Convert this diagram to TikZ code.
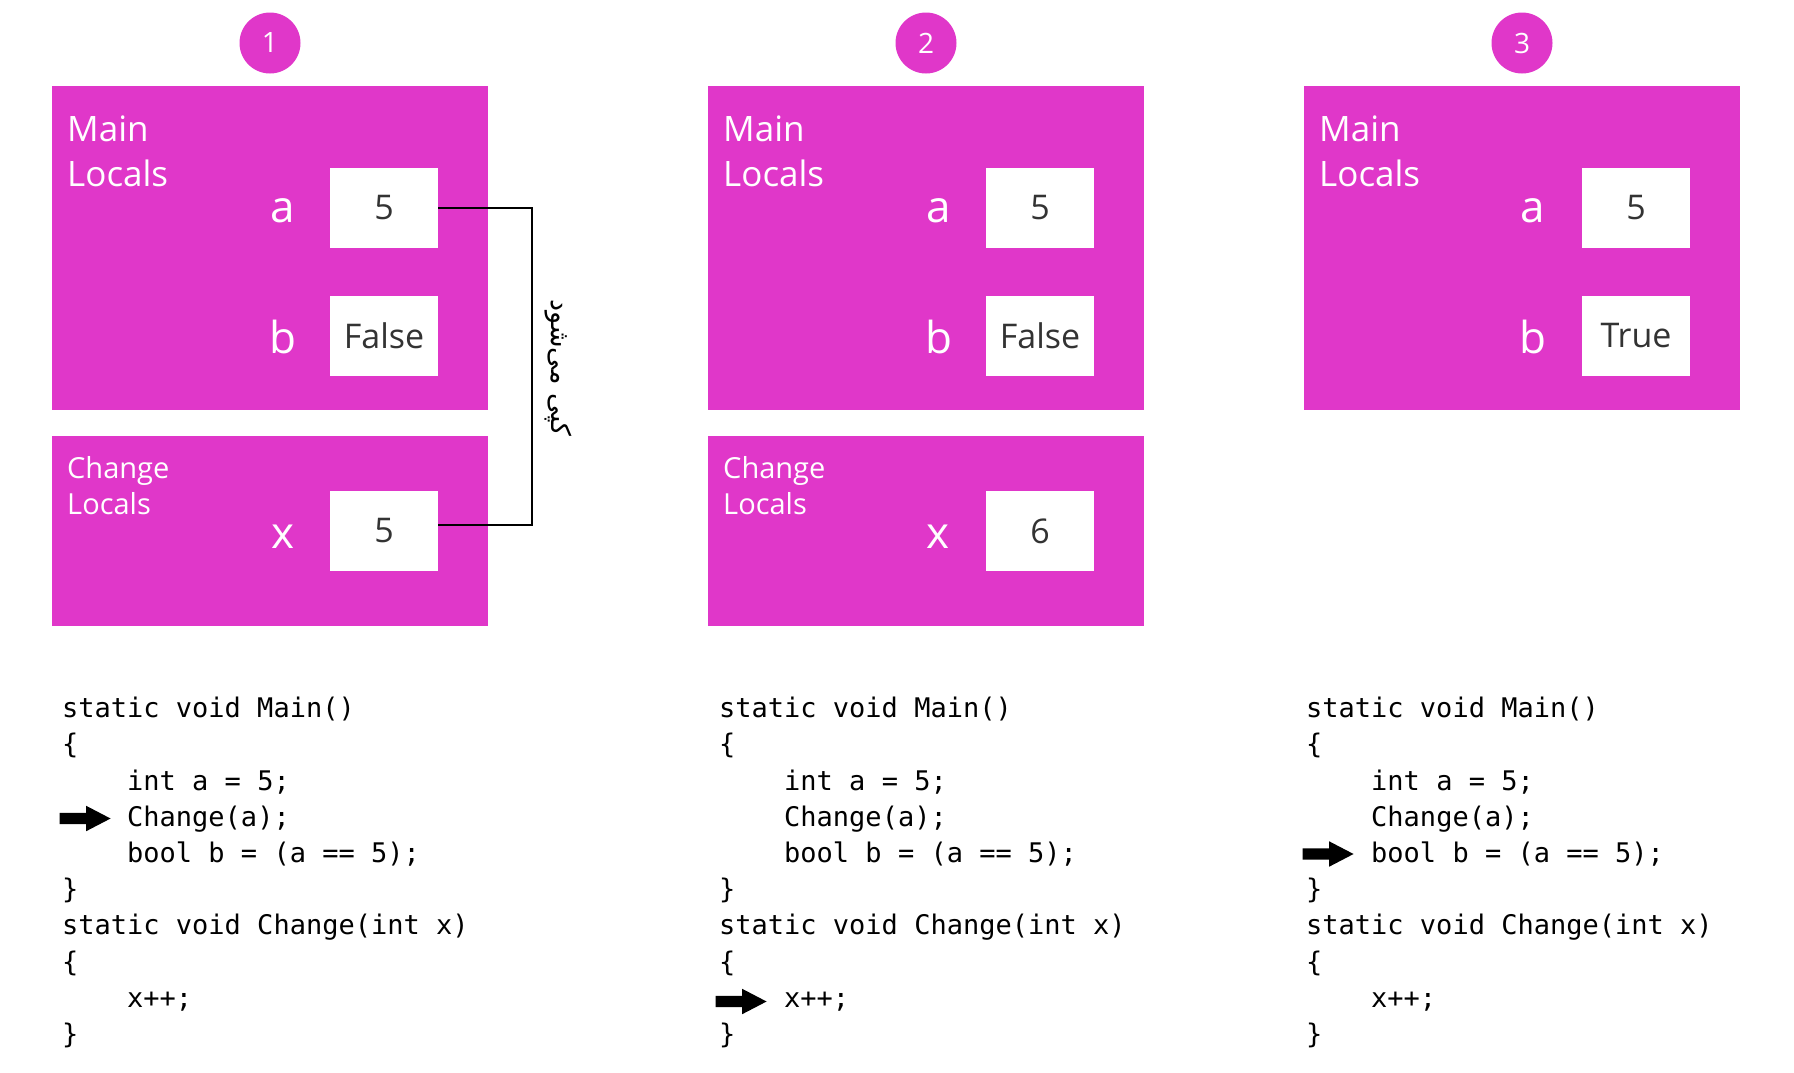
\documentclass[tikz,border=0pt]{standalone}
\usepackage{fontspec}
\setmainfont{Open Sans}
\newfontfamily\codefont{DejaVu Sans Mono}
\newfontfamily\arabicfont[Script=Arabic]{DejaVu Sans}
\TeXXeTstate=1
\usepackage{tikz}
\usetikzlibrary{positioning,shapes.arrows}
\definecolor{stackpink}{RGB}{224,55,201}
\definecolor{valgray}{RGB}{51,51,51}

\begin{document}
\begin{tikzpicture}[x=1pt,y=-1pt,
    stackframe/.style={rectangle,fill=stackpink,inner sep=0pt,minimum width=436pt,anchor=north west},
    valbox/.style={rectangle,fill=white,inner sep=0pt,minimum width=108pt,minimum height=80pt,text=valgray,font=\fontsize{34pt}{40pt}\selectfont},
    varname/.style={anchor=base,text=white,inner sep=0pt,font=\fontsize{44pt}{50pt}\selectfont},
    frametitle/.style={anchor=north west,align=left,text=white,inner sep=0pt,font=\fontsize{35pt}{45pt}\selectfont},
    subtitle/.style={frametitle,font=\fontsize{29pt}{36pt}\selectfont},
    stepnum/.style={circle,fill=stackpink,text=white,inner sep=0pt,minimum size=61pt,font=\fontsize{28pt}{32pt}\selectfont},
    codeline/.style={anchor=base west,inner sep=0pt,font=\codefont\fontsize{27pt}{36pt}\selectfont},
    pointer/.style={single arrow,fill=black,anchor=tip,inner xsep=0pt,inner ysep=5.5pt,minimum height=51pt,minimum width=25pt,single arrow head extend=7pt,single arrow tip angle=55},
    link/.style={draw=black,line width=1.3pt}]

    \useasboundingbox (0,0) rectangle (1794,1072);

    % Step numbers
    \node [stepnum] at (270,43) (n1) {1};
    \node [stepnum] at (926,43) (n2) {2};
    \node [stepnum] at (1522,43) (n3) {3};

    % Stack frames
    \node [stackframe,minimum height=324pt] at (52,86) (main1) {};
    \node [stackframe,minimum height=324pt] at (708,86) (main2) {};
    \node [stackframe,minimum height=324pt] at (1304,86) (main3) {};
    \node [stackframe,minimum height=190pt] at (52,436) (chg1) {};
    \node [stackframe,minimum height=190pt] at (708,436) (chg2) {};

    \node [frametitle] at (67,116) (mt1) {Main\\Locals};
    \node [frametitle] at (723,116) (mt2) {Main\\Locals};
    \node [frametitle] at (1319,116) (mt3) {Main\\Locals};
    \node [subtitle] at (67,456) (ct1) {Change\\Locals};
    \node [subtitle] at (723,456) (ct2) {Change\\Locals};

    % Locals of frame 1
    \node [varname] at (283,222) (a1) {a};
    \node [varname] at (283,353) (b1) {b};
    \node [varname] at (283,548) (x1) {x};
    \node [valbox] at (384,208) (aval1) {5};
    \node [valbox] at (384,336) (bval1) {False};
    \node [valbox] at (384,531) (xval1) {5};

    % Locals of frame 2
    \node [varname] at (939,222) (a2) {a};
    \node [varname] at (939,353) (b2) {b};
    \node [varname] at (938,548) (x2) {x};
    \node [valbox] at (1040,208) (aval2) {5};
    \node [valbox] at (1040,336) (bval2) {False};
    \node [valbox] at (1040,531) (xval2) {6};

    % Locals of frame 3
    \node [varname] at (1533,222) (a3) {a};
    \node [varname] at (1533,353) (b3) {b};
    \node [valbox] at (1636,208) (aval3) {5};
    \node [valbox] at (1636,336) (bval3) {True};

    % The copy
    \coordinate (bend1) at (532,367);
    \path[link]
    (aval1.east) -| (bend1) |- ([yshift=6pt]xval1.east);
    \node [rotate=-90,inner sep=0pt] at (558,368) (copied) {\arabicfont\fontsize{27pt}{32pt}\selectfont\beginR کپی می^^^^200cشود\endR};

    % Code
    \foreach \cx/\cp in {62/1,719/2,1306/3}
      \foreach \codetxt [count=\i] in {static void Main(),\{,\phantom{xxxx}int a = 5;,\phantom{xxxx}Change(a);,\phantom{xxxx}bool b = (a == 5);,\},static void Change(int x),\{,\phantom{xxxx}x++;,\}}
        \node [codeline] at (\cx,{717.6+36.2*(\i-1)}) (code\cp-\i) {\codetxt};

    \node [pointer] at (111,818.5) (ptr1) {};
    \node [pointer] at (767,1001.5) (ptr2) {};
    \node [pointer] at (1354,854) (ptr3) {};

\end{tikzpicture}
\end{document}
